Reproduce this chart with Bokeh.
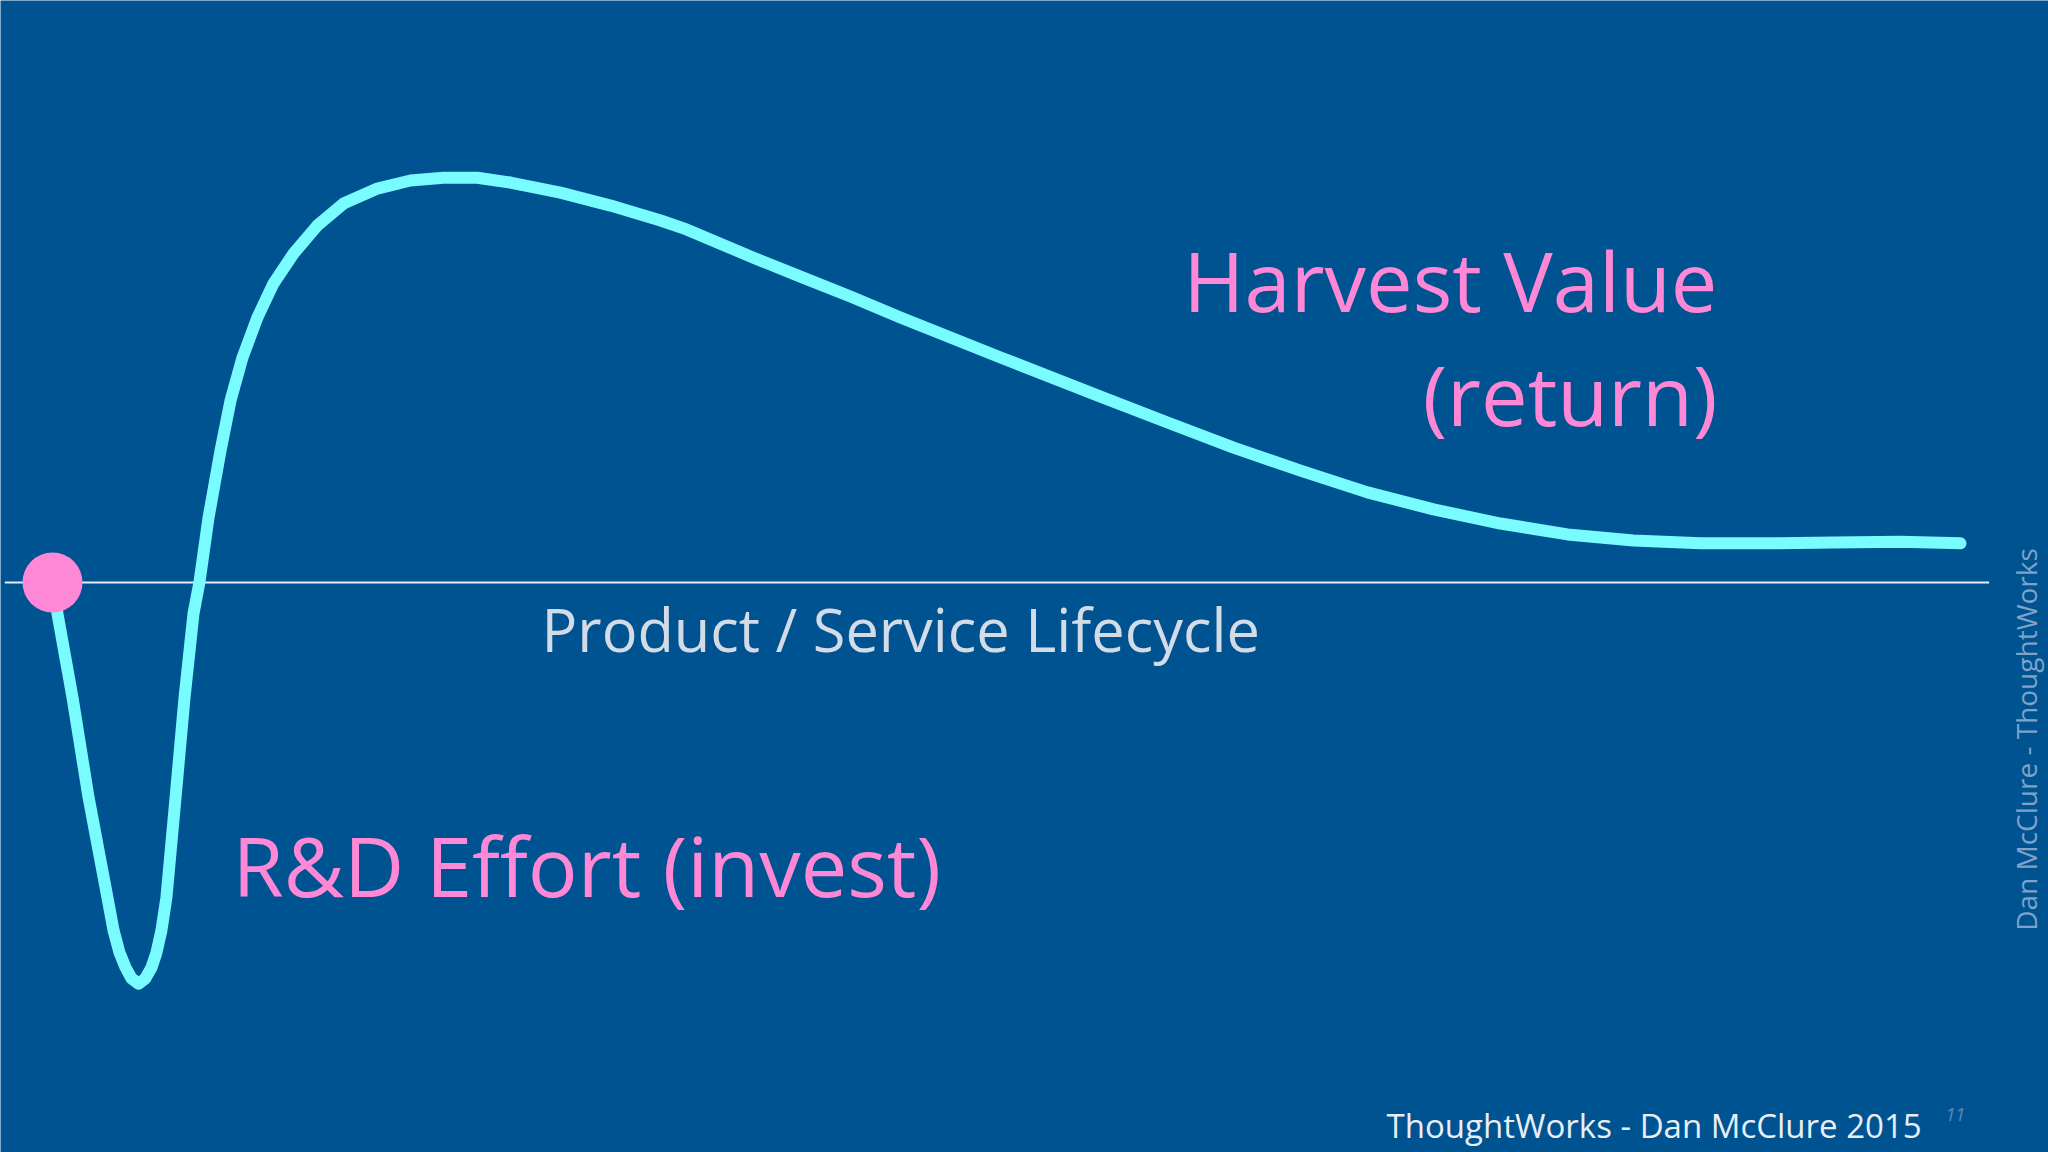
from bokeh.plotting import figure
from bokeh.models import Range1d, ColumnDataSource
from bokeh.core.properties import value
from bokeh.embed import file_html
from bokeh.resources import INLINE

# Lifecycle curve: time (0..100) vs value (R&D investment negative, harvest positive)
lifecycle_t = [0.00, 0.26, 1.05, 1.89, 2.88, 3.20, 3.51, 3.83, 4.14, 4.51, 4.87, 5.19,
               5.45, 5.71, 5.97, 6.45, 6.92, 7.39, 7.70, 8.18, 8.81, 9.33, 9.96, 10.74,
               11.58, 12.63, 13.89, 15.25, 17.03, 18.76, 20.49, 22.27, 24.00, 26.62,
               29.25, 31.87, 33.23, 36.74, 39.20, 41.82, 44.44, 49.69, 54.93, 58.44,
               61.90, 65.41, 68.92, 72.38, 75.89, 79.40, 82.86, 86.37, 89.88, 93.34,
               96.86, 100.00]
lifecycle_value = [0.0, -7.7, -28.5, -53.2, -78.0, -86.1, -91.6, -95.3, -98.0, -99.3,
                   -98.0, -95.3, -91.6, -86.1, -78.0, -53.2, -28.5, -7.7, 0.0, 16.1,
                   32.7, 45.0, 55.7, 65.6, 74.0, 81.4, 88.4, 93.8, 97.5, 99.5, 100.2,
                   100.2, 99.0, 96.5, 93.3, 89.6, 87.4, 80.4, 75.7, 70.8, 65.6, 55.7,
                   46.0, 39.6, 33.4, 27.7, 22.3, 18.1, 14.6, 11.9, 10.4, 9.7, 9.7, 9.9,
                   10.1, 9.7]
start_t = [0.0]
start_value = [0.0]
axis_t = [-2.5, 101.5]
axis_value = [0.0, 0.0]

harvest_lines = ["Harvest Value", "(return)"]
invest_text = "R&D Effort (invest)"
axis_label = "Product / Service Lifecycle"
footer = "ThoughtWorks - Dan McClure 2015"
page_no = "11"
side_note = "Dan McClure - ThoughtWorks"

BG = "#005391"
CYAN = "#78FCFF"
PINK = "#FF88D6"
FONT = "Open Sans"

p = figure(width=2048, height=1152, output_backend="svg", toolbar_location=None,
           x_range=Range1d(-2.725, 104.612), y_range=Range1d(-141.09, 144.06),
           min_border=0, min_border_left=0, min_border_right=0,
           min_border_top=0, min_border_bottom=0)
p.axis.visible = False
p.grid.visible = False
p.outline_line_color = None
p.background_fill_color = BG
p.border_fill_color = BG

p.line(axis_t, axis_value, line_color="#E6EDF4", line_width=2)
p.line(lifecycle_t, lifecycle_value, line_color=CYAN, line_width=12,
       line_cap="round", line_join="round")
p.scatter(start_t, start_value, size=60, fill_color=PINK, line_color=None)


def add_text(x, y, text, size, color, align="left", baseline="alphabetic",
             angle=0.0, style="normal"):
    src = ColumnDataSource(dict(x=[x], y=[y], text=[text]))
    p.text(x="x", y="y", text="text", source=src, text_font=value(FONT),
           text_font_size=value(f"{size}px"), text_color=color,
           text_align=align, text_baseline=baseline, angle=angle,
           text_font_style=style)


add_text(87.26, 75.0, harvest_lines[0], 83, PINK, align="right")
add_text(87.26, 46.78, harvest_lines[1], 83, PINK, align="right")
add_text(9.43, -69.81, invest_text, 83, PINK)
add_text(25.63, -11.39, axis_label, 59.5, "#D3DCE6")
add_text(69.92, -134.41, footer, 33, "#E8EEF5")
add_text(99.21, -131.68, page_no, 18, "#5F86B3", style="italic")
add_text(103.45, -38.86, side_note, 28, "#7EA2C8", align="center",
         baseline="middle", angle=1.5708)

open("out.html", "w").write(file_html(p, INLINE))
